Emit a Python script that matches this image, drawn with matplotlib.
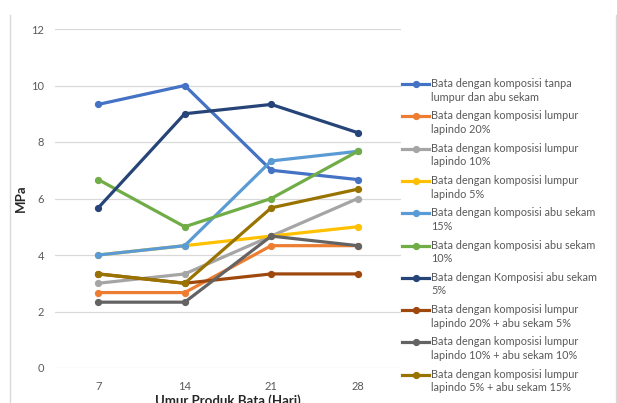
import matplotlib.pyplot as plt
from matplotlib.lines import Line2D

plt.rcParams['font.family'] = ['Lato', 'DejaVu Sans']

# Umur bata (hari) dan kuat tekan (MPa)
hari = ['7', '14', '21', '28']
tanpa_campuran = [9.33, 10.0, 7.0, 6.67]
lumpur_20 = [2.67, 2.67, 4.33, 4.33]
lumpur_10 = [3.0, 3.33, 4.67, 6.0]
lumpur_5 = [4.0, 4.33, 4.67, 5.0]
abu_15 = [4.0, 4.33, 7.33, 7.67]
abu_10 = [6.67, 5.0, 6.0, 7.67]
abu_5 = [5.67, 9.0, 9.33, 8.33]
lumpur20_abu5 = [3.33, 3.0, 3.33, 3.33]
lumpur10_abu10 = [2.33, 2.33, 4.67, 4.33]
lumpur5_abu15 = [3.33, 3.0, 5.67, 6.33]

seri = [
    ('Bata dengan komposisi tanpa\nlumpur dan abu sekam', tanpa_campuran, '#4472C4'),
    ('Bata dengan komposisi lumpur\nlapindo 20%', lumpur_20, '#ED7D31'),
    ('Bata dengan komposisi lumpur\nlapindo 10%', lumpur_10, '#A5A5A5'),
    ('Bata dengan komposisi lumpur\nlapindo 5%', lumpur_5, '#FFC000'),
    ('Bata dengan komposisi abu sekam\n15%', abu_15, '#5B9BD5'),
    ('Bata dengan komposisi abu sekam\n10%', abu_10, '#70AD47'),
    ('Bata dengan Komposisi abu sekam\n5%', abu_5, '#264478'),
    ('Bata dengan komposisi lumpur\nlapindo 20% + abu sekam 5%', lumpur20_abu5, '#9E480E'),
    ('Bata dengan komposisi lumpur\nlapindo 10% + abu sekam 10%', lumpur10_abu10, '#636363'),
    ('Bata dengan komposisi lumpur\nlapindo 5% + abu sekam 15%', lumpur5_abu15, '#997300'),
]

W, H = 617, 403
fig = plt.figure(figsize=(W / 100, H / 100), dpi=100)
ax = fig.add_axes([55 / W, 1 - 368 / H, (401 - 55) / W, (368 - 29) / H])

x = list(range(len(hari)))
for label, nilai, warna in seri:
    ax.plot(x, nilai, color=warna, lw=2.3, marker='o', ms=4.2,
            solid_capstyle='round', zorder=3)

ax.set_xlim(-0.5, len(hari) - 0.5)
ax.set_ylim(0, 12)
ax.set_yticks(range(0, 13, 2))
ax.set_xticks(x)
ax.set_xticklabels(hari)
ax.grid(axis='y', color='#D9D9D9', lw=0.9)
ax.set_axisbelow(True)
for s in ax.spines.values():
    s.set_visible(False)
ax.tick_params(length=0, colors='#595959', labelsize=8)
ax.tick_params(axis='y', pad=8)
ax.tick_params(axis='x', pad=9)
ax.set_xlabel('Umur Produk Bata (Hari)', fontsize=9.5, fontweight='bold',
              color='#262626', labelpad=2)
ax.set_ylabel('MPa', fontsize=9.5, fontweight='bold', color='#262626',
              labelpad=3)

# garis tepi kiri dan kanan area grafik
for xp in (10, 616):
    fig.add_artist(Line2D([xp / W, xp / W], [0, 1 - 15 / H], color='#D9D9D9',
                          lw=1.0, transform=fig.transFigure))

# legenda di kanan
y0, dy = 84, 32.3
for i, (label, nilai, warna) in enumerate(seri):
    yy = 1 - (y0 + i * dy) / H
    fig.add_artist(Line2D([402 / W, 429 / W], [yy, yy], color=warna, lw=2.3,
                          transform=fig.transFigure))
    fig.add_artist(Line2D([415.5 / W], [yy], color=warna, marker='o', ms=4.2,
                          transform=fig.transFigure))
    fig.text(431 / W, yy + 6 / H, label, fontsize=7.8, color='#595959',
             va='top', ha='left', linespacing=1.3)

fig.savefig('out.png', dpi=100)
